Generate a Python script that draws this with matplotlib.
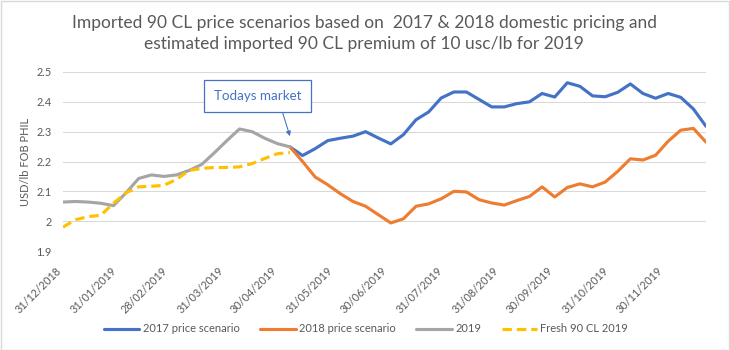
import numpy as np
import pandas as pd
import matplotlib
matplotlib.use('Agg')
import matplotlib.pyplot as plt
import matplotlib.dates as mdates
from matplotlib.patches import Rectangle

plt.rcParams['font.family'] = ['Lato', 'DejaVu Sans']

# weekly points, mondays
dates = pd.date_range('2018-12-31', periods=52, freq='7D')

actual_2019 = [2.064, 2.066, 2.064, 2.060, 2.052, 2.095, 2.143, 2.155, 2.150, 2.155,
               2.170, 2.190, 2.229, 2.270, 2.309, 2.300, 2.278, 2.260, 2.249]
fresh_2019 = [1.980, 2.005, 2.015, 2.020, 2.060, 2.095, 2.115, 2.117, 2.120, 2.140,
              2.170, 2.177, 2.180, 2.180, 2.182, 2.193, 2.210, 2.226, 2.230]
scen_2017 = [2.249, 2.220, 2.243, 2.270, 2.278, 2.285, 2.300, 2.279, 2.259, 2.290,
             2.340, 2.366, 2.413, 2.433, 2.433, 2.408, 2.383, 2.383, 2.394, 2.400,
             2.428, 2.416, 2.464, 2.452, 2.420, 2.417, 2.432, 2.460, 2.428, 2.412,
             2.428, 2.415, 2.376, 2.318]
scen_2018 = [2.249, 2.200, 2.148, 2.122, 2.092, 2.066, 2.050, 2.022, 1.994, 2.008,
             2.050, 2.058, 2.075, 2.100, 2.098, 2.072, 2.061, 2.054, 2.069, 2.083,
             2.115, 2.081, 2.113, 2.125, 2.115, 2.131, 2.167, 2.209, 2.205, 2.221,
             2.268, 2.305, 2.311, 2.265]

month_ticks = pd.date_range('2018-12-31', '2019-11-30', freq='ME')

grey_txt = '#595959'

fig = plt.figure(figsize=(7.3, 3.5), dpi=100)
ax = fig.add_axes([63/730, 1 - 251/350, (706 - 63)/730, (251 - 72)/350])

n_hist = len(actual_2019)
ax.plot(dates[n_hist-1:], scen_2017, color='#4472C4', lw=2.25, label='2017 price scenario', solid_capstyle='round')
ax.plot(dates[n_hist-1:], scen_2018, color='#ED7D31', lw=2.25, label='2018 price scenario', solid_capstyle='round')
ax.plot(dates[:n_hist], actual_2019, color='#A5A5A5', lw=2.25, label='2019', solid_capstyle='round')
ax.plot(dates[:n_hist], fresh_2019, color='#FFC000', lw=2.25, ls=(0, (3, 1.6)), label='Fresh 90 CL 2019')

ax.set_xlim(dates[0], dates[-1])
ax.set_ylim(1.9, 2.5)
ax.set_yticks(np.arange(1.9, 2.51, 0.1))
ax.yaxis.set_major_formatter(plt.FuncFormatter(lambda v, p: '%g' % round(v, 1)))
ax.set_xticks(month_ticks)
ax.xaxis.set_major_formatter(mdates.DateFormatter('%d/%m/%Y'))
for lab in ax.get_xticklabels():
    lab.set_rotation(45)
    lab.set_ha('right')
ax.tick_params(axis='both', length=0, labelsize=7.8, labelcolor=grey_txt)
ax.tick_params(axis='y', pad=8)
ax.tick_params(axis='x', pad=10)
ax.grid(axis='y', color='#D9D9D9', lw=0.75)
ax.set_axisbelow(True)
for s in ax.spines.values():
    s.set_visible(False)

ax.set_ylabel('USD/lb FOB PHIL', fontsize=8, color=grey_txt, labelpad=4)

ax.annotate('Todays market', xy=(dates[n_hist-1], 2.285),
            xytext=(pd.Timestamp('2019-04-18'), 2.418),
            ha='center', va='center', fontsize=9.6, color='#4472C4',
            bbox=dict(boxstyle='square,pad=0.75', fc='white', ec='#4472C4', lw=0.9),
            arrowprops=dict(arrowstyle='-|>', color='#4472C4', lw=0.75,
                            mutation_scale=7, relpos=(0.75, 0), shrinkA=0, shrinkB=0))

fig.text(364/730, 1 - 33.5/350,
         'Imported 90 CL price scenarios based on  2017 & 2018 domestic pricing and\n'
         'estimated imported 90 CL premium of 10 usc/lb for 2019',
         ha='center', va='center', fontsize=12.5, color=grey_txt, linespacing=1.33)

fig.legend(loc='center', bbox_to_anchor=(366/730, 1 - 329/350), ncol=4, frameon=False,
           fontsize=8.0, handlelength=3.2, handletextpad=0.3, columnspacing=1.85,
           labelcolor=grey_txt)

fig.patches.append(Rectangle((0.5/730, 0.5/350), 1 - 1.5/730, 1 - 1.5/350,
                             transform=fig.transFigure, fill=False, ec='#D9D9D9', lw=1))

fig.savefig('out.png', dpi=100)
